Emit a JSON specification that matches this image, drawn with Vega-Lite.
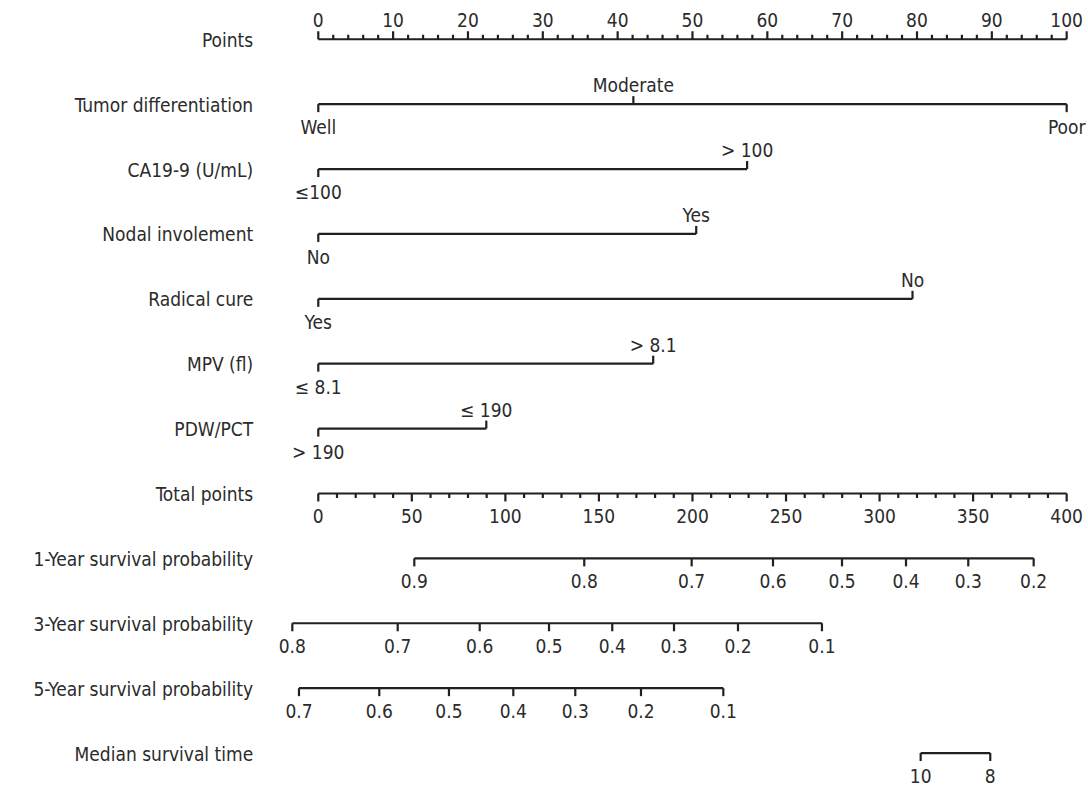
{
  "$schema": "https://vega.github.io/schema/vega-lite/v6.json",
  "width": 1088,
  "height": 787,
  "autosize": {"type": "fit", "contains": "padding"},
  "padding": 0,
  "background": "white",
  "config": {
    "view": {"stroke": null},
    "text": {"font": "DejaVu Sans Condensed, sans-serif", "fontSize": 19, "color": "#2b2b2b"}
  },
  "datasets": {
    "lines": [
      {"row": 0, "name": "Points", "from": 0, "to": 100},
      {"row": 1, "name": "Tumor differentiation", "from": 0, "to": 100},
      {"row": 2, "name": "CA19-9 (U/mL)", "from": 0, "to": 57.3},
      {"row": 3, "name": "Nodal involement", "from": 0, "to": 50.5},
      {"row": 4, "name": "Radical cure", "from": 0, "to": 79.4},
      {"row": 5, "name": "MPV (fl)", "from": 0, "to": 44.75},
      {"row": 6, "name": "PDW/PCT", "from": 0, "to": 22.45},
      {"row": 7, "name": "Total points", "from": 0, "to": 100},
      {"row": 8, "name": "1-Year survival probability", "from": 12.83, "to": 95.59},
      {"row": 9, "name": "3-Year survival probability", "from": -3.47, "to": 67.3},
      {"row": 10, "name": "5-Year survival probability", "from": -2.58, "to": 54.12},
      {"row": 11, "name": "Median survival time", "from": 80.49, "to": 89.79}
    ],
    "ticks": [
      {"row": 0, "pos": 0, "label": "0", "side": "up", "size": "major"},
      {"row": 0, "pos": 10, "label": "10", "side": "up", "size": "major"},
      {"row": 0, "pos": 20, "label": "20", "side": "up", "size": "major"},
      {"row": 0, "pos": 30, "label": "30", "side": "up", "size": "major"},
      {"row": 0, "pos": 40, "label": "40", "side": "up", "size": "major"},
      {"row": 0, "pos": 50, "label": "50", "side": "up", "size": "major"},
      {"row": 0, "pos": 60, "label": "60", "side": "up", "size": "major"},
      {"row": 0, "pos": 70, "label": "70", "side": "up", "size": "major"},
      {"row": 0, "pos": 80, "label": "80", "side": "up", "size": "major"},
      {"row": 0, "pos": 90, "label": "90", "side": "up", "size": "major"},
      {"row": 0, "pos": 100, "label": "100", "side": "up", "size": "major"},
      {"row": 0, "pos": 2, "label": "", "side": "up", "size": "minor"},
      {"row": 0, "pos": 4, "label": "", "side": "up", "size": "minor"},
      {"row": 0, "pos": 6, "label": "", "side": "up", "size": "minor"},
      {"row": 0, "pos": 8, "label": "", "side": "up", "size": "minor"},
      {"row": 0, "pos": 12, "label": "", "side": "up", "size": "minor"},
      {"row": 0, "pos": 14, "label": "", "side": "up", "size": "minor"},
      {"row": 0, "pos": 16, "label": "", "side": "up", "size": "minor"},
      {"row": 0, "pos": 18, "label": "", "side": "up", "size": "minor"},
      {"row": 0, "pos": 22, "label": "", "side": "up", "size": "minor"},
      {"row": 0, "pos": 24, "label": "", "side": "up", "size": "minor"},
      {"row": 0, "pos": 26, "label": "", "side": "up", "size": "minor"},
      {"row": 0, "pos": 28, "label": "", "side": "up", "size": "minor"},
      {"row": 0, "pos": 32, "label": "", "side": "up", "size": "minor"},
      {"row": 0, "pos": 34, "label": "", "side": "up", "size": "minor"},
      {"row": 0, "pos": 36, "label": "", "side": "up", "size": "minor"},
      {"row": 0, "pos": 38, "label": "", "side": "up", "size": "minor"},
      {"row": 0, "pos": 42, "label": "", "side": "up", "size": "minor"},
      {"row": 0, "pos": 44, "label": "", "side": "up", "size": "minor"},
      {"row": 0, "pos": 46, "label": "", "side": "up", "size": "minor"},
      {"row": 0, "pos": 48, "label": "", "side": "up", "size": "minor"},
      {"row": 0, "pos": 52, "label": "", "side": "up", "size": "minor"},
      {"row": 0, "pos": 54, "label": "", "side": "up", "size": "minor"},
      {"row": 0, "pos": 56, "label": "", "side": "up", "size": "minor"},
      {"row": 0, "pos": 58, "label": "", "side": "up", "size": "minor"},
      {"row": 0, "pos": 62, "label": "", "side": "up", "size": "minor"},
      {"row": 0, "pos": 64, "label": "", "side": "up", "size": "minor"},
      {"row": 0, "pos": 66, "label": "", "side": "up", "size": "minor"},
      {"row": 0, "pos": 68, "label": "", "side": "up", "size": "minor"},
      {"row": 0, "pos": 72, "label": "", "side": "up", "size": "minor"},
      {"row": 0, "pos": 74, "label": "", "side": "up", "size": "minor"},
      {"row": 0, "pos": 76, "label": "", "side": "up", "size": "minor"},
      {"row": 0, "pos": 78, "label": "", "side": "up", "size": "minor"},
      {"row": 0, "pos": 82, "label": "", "side": "up", "size": "minor"},
      {"row": 0, "pos": 84, "label": "", "side": "up", "size": "minor"},
      {"row": 0, "pos": 86, "label": "", "side": "up", "size": "minor"},
      {"row": 0, "pos": 88, "label": "", "side": "up", "size": "minor"},
      {"row": 0, "pos": 92, "label": "", "side": "up", "size": "minor"},
      {"row": 0, "pos": 94, "label": "", "side": "up", "size": "minor"},
      {"row": 0, "pos": 96, "label": "", "side": "up", "size": "minor"},
      {"row": 0, "pos": 98, "label": "", "side": "up", "size": "minor"},
      {"row": 1, "pos": 0, "label": "Well", "side": "down", "size": "major"},
      {"row": 1, "pos": 42.1, "label": "Moderate", "side": "up", "size": "major"},
      {"row": 1, "pos": 100, "label": "Poor", "side": "down", "size": "major"},
      {"row": 2, "pos": 0, "label": "≤100", "side": "down", "size": "major"},
      {"row": 2, "pos": 57.3, "label": "> 100", "side": "up", "size": "major"},
      {"row": 3, "pos": 0, "label": "No", "side": "down", "size": "major"},
      {"row": 3, "pos": 50.5, "label": "Yes", "side": "up", "size": "major"},
      {"row": 4, "pos": 0, "label": "Yes", "side": "down", "size": "major"},
      {"row": 4, "pos": 79.4, "label": "No", "side": "up", "size": "major"},
      {"row": 5, "pos": 0, "label": "≤ 8.1", "side": "down", "size": "major"},
      {"row": 5, "pos": 44.75, "label": "> 8.1", "side": "up", "size": "major"},
      {"row": 6, "pos": 0, "label": "> 190", "side": "down", "size": "major"},
      {"row": 6, "pos": 22.45, "label": "≤ 190", "side": "up", "size": "major"},
      {"row": 7, "pos": 0, "label": "0", "side": "down", "size": "major"},
      {"row": 7, "pos": 12.5, "label": "50", "side": "down", "size": "major"},
      {"row": 7, "pos": 25, "label": "100", "side": "down", "size": "major"},
      {"row": 7, "pos": 37.5, "label": "150", "side": "down", "size": "major"},
      {"row": 7, "pos": 50, "label": "200", "side": "down", "size": "major"},
      {"row": 7, "pos": 62.5, "label": "250", "side": "down", "size": "major"},
      {"row": 7, "pos": 75, "label": "300", "side": "down", "size": "major"},
      {"row": 7, "pos": 87.5, "label": "350", "side": "down", "size": "major"},
      {"row": 7, "pos": 100, "label": "400", "side": "down", "size": "major"},
      {"row": 7, "pos": 2.5, "label": "", "side": "down", "size": "minor"},
      {"row": 7, "pos": 5, "label": "", "side": "down", "size": "minor"},
      {"row": 7, "pos": 7.5, "label": "", "side": "down", "size": "minor"},
      {"row": 7, "pos": 10, "label": "", "side": "down", "size": "minor"},
      {"row": 7, "pos": 15, "label": "", "side": "down", "size": "minor"},
      {"row": 7, "pos": 17.5, "label": "", "side": "down", "size": "minor"},
      {"row": 7, "pos": 20, "label": "", "side": "down", "size": "minor"},
      {"row": 7, "pos": 22.5, "label": "", "side": "down", "size": "minor"},
      {"row": 7, "pos": 27.5, "label": "", "side": "down", "size": "minor"},
      {"row": 7, "pos": 30, "label": "", "side": "down", "size": "minor"},
      {"row": 7, "pos": 32.5, "label": "", "side": "down", "size": "minor"},
      {"row": 7, "pos": 35, "label": "", "side": "down", "size": "minor"},
      {"row": 7, "pos": 40, "label": "", "side": "down", "size": "minor"},
      {"row": 7, "pos": 42.5, "label": "", "side": "down", "size": "minor"},
      {"row": 7, "pos": 45, "label": "", "side": "down", "size": "minor"},
      {"row": 7, "pos": 47.5, "label": "", "side": "down", "size": "minor"},
      {"row": 7, "pos": 52.5, "label": "", "side": "down", "size": "minor"},
      {"row": 7, "pos": 55, "label": "", "side": "down", "size": "minor"},
      {"row": 7, "pos": 57.5, "label": "", "side": "down", "size": "minor"},
      {"row": 7, "pos": 60, "label": "", "side": "down", "size": "minor"},
      {"row": 7, "pos": 65, "label": "", "side": "down", "size": "minor"},
      {"row": 7, "pos": 67.5, "label": "", "side": "down", "size": "minor"},
      {"row": 7, "pos": 70, "label": "", "side": "down", "size": "minor"},
      {"row": 7, "pos": 72.5, "label": "", "side": "down", "size": "minor"},
      {"row": 7, "pos": 77.5, "label": "", "side": "down", "size": "minor"},
      {"row": 7, "pos": 80, "label": "", "side": "down", "size": "minor"},
      {"row": 7, "pos": 82.5, "label": "", "side": "down", "size": "minor"},
      {"row": 7, "pos": 85, "label": "", "side": "down", "size": "minor"},
      {"row": 7, "pos": 90, "label": "", "side": "down", "size": "minor"},
      {"row": 7, "pos": 92.5, "label": "", "side": "down", "size": "minor"},
      {"row": 7, "pos": 95, "label": "", "side": "down", "size": "minor"},
      {"row": 7, "pos": 97.5, "label": "", "side": "down", "size": "minor"},
      {"row": 8, "pos": 12.83, "label": "0.9", "side": "down", "size": "major"},
      {"row": 8, "pos": 35.54, "label": "0.8", "side": "down", "size": "major"},
      {"row": 8, "pos": 49.89, "label": "0.7", "side": "down", "size": "major"},
      {"row": 8, "pos": 60.76, "label": "0.6", "side": "down", "size": "major"},
      {"row": 8, "pos": 69.98, "label": "0.5", "side": "down", "size": "major"},
      {"row": 8, "pos": 78.53, "label": "0.4", "side": "down", "size": "major"},
      {"row": 8, "pos": 86.85, "label": "0.3", "side": "down", "size": "major"},
      {"row": 8, "pos": 95.59, "label": "0.2", "side": "down", "size": "major"},
      {"row": 9, "pos": -3.47, "label": "0.8", "side": "down", "size": "major"},
      {"row": 9, "pos": 10.61, "label": "0.7", "side": "down", "size": "major"},
      {"row": 9, "pos": 21.57, "label": "0.6", "side": "down", "size": "major"},
      {"row": 9, "pos": 30.83, "label": "0.5", "side": "down", "size": "major"},
      {"row": 9, "pos": 39.28, "label": "0.4", "side": "down", "size": "major"},
      {"row": 9, "pos": 47.53, "label": "0.3", "side": "down", "size": "major"},
      {"row": 9, "pos": 56.08, "label": "0.2", "side": "down", "size": "major"},
      {"row": 9, "pos": 67.3, "label": "0.1", "side": "down", "size": "major"},
      {"row": 10, "pos": -2.58, "label": "0.7", "side": "down", "size": "major"},
      {"row": 10, "pos": 8.15, "label": "0.6", "side": "down", "size": "major"},
      {"row": 10, "pos": 17.46, "label": "0.5", "side": "down", "size": "major"},
      {"row": 10, "pos": 26.06, "label": "0.4", "side": "down", "size": "major"},
      {"row": 10, "pos": 34.34, "label": "0.3", "side": "down", "size": "major"},
      {"row": 10, "pos": 43.12, "label": "0.2", "side": "down", "size": "major"},
      {"row": 10, "pos": 54.12, "label": "0.1", "side": "down", "size": "major"},
      {"row": 11, "pos": 80.49, "label": "10", "side": "down", "size": "major"},
      {"row": 11, "pos": 89.79, "label": "8", "side": "down", "size": "major"}
    ]
  },
  "encoding": {
    "y": {"field": "row", "type": "quantitative", "scale": {"domain": [-0.605, 11.508], "reverse": true, "nice": false, "zero": false}, "axis": null}
  },
  "layer": [
    {
      "data": {"name": "lines"},
      "mark": {"type": "rule", "strokeWidth": 2.2, "color": "#231f20"},
      "encoding": {
        "x": {"field": "from", "type": "quantitative", "scale": {"domain": [-42.53, 102.85], "nice": false, "zero": false}, "axis": null},
        "x2": {"field": "to"}
      }
    },
    {
      "data": {"name": "ticks"},
      "transform": [{"filter": "datum.side == 'up' && datum.size == 'major'"}],
      "mark": {"type": "rule", "strokeWidth": 2.2, "color": "#231f20", "y2Offset": -8},
      "encoding": {"x": {"field": "pos", "type": "quantitative", "axis": null}, "y2": {"field": "row"}}
    },
    {
      "data": {"name": "ticks"},
      "transform": [{"filter": "datum.side == 'up' && datum.size == 'minor'"}],
      "mark": {"type": "rule", "strokeWidth": 2.2, "color": "#231f20", "y2Offset": -4.5},
      "encoding": {"x": {"field": "pos", "type": "quantitative", "axis": null}, "y2": {"field": "row"}}
    },
    {
      "data": {"name": "ticks"},
      "transform": [{"filter": "datum.side == 'down' && datum.size == 'major'"}],
      "mark": {"type": "rule", "strokeWidth": 2.2, "color": "#231f20", "y2Offset": 8},
      "encoding": {"x": {"field": "pos", "type": "quantitative", "axis": null}, "y2": {"field": "row"}}
    },
    {
      "data": {"name": "ticks"},
      "transform": [{"filter": "datum.side == 'down' && datum.size == 'minor'"}],
      "mark": {"type": "rule", "strokeWidth": 2.2, "color": "#231f20", "y2Offset": 4.5},
      "encoding": {"x": {"field": "pos", "type": "quantitative", "axis": null}, "y2": {"field": "row"}}
    },
    {
      "data": {"name": "ticks"},
      "transform": [{"filter": "datum.side == 'up' && datum.label != ''"}],
      "mark": {"type": "text", "align": "center", "baseline": "alphabetic", "dy": -12},
      "encoding": {"x": {"field": "pos", "type": "quantitative", "axis": null}, "text": {"field": "label"}}
    },
    {
      "data": {"name": "ticks"},
      "transform": [{"filter": "datum.side == 'down' && datum.label != ''"}],
      "mark": {"type": "text", "align": "center", "baseline": "alphabetic", "dy": 30},
      "encoding": {"x": {"field": "pos", "type": "quantitative", "axis": null}, "text": {"field": "label"}}
    },
    {
      "data": {"name": "lines"},
      "mark": {"type": "text", "align": "right", "baseline": "middle", "dy": 1.5},
      "encoding": {"x": {"datum": -8.7, "type": "quantitative"}, "text": {"field": "name"}}
    }
  ]
}
